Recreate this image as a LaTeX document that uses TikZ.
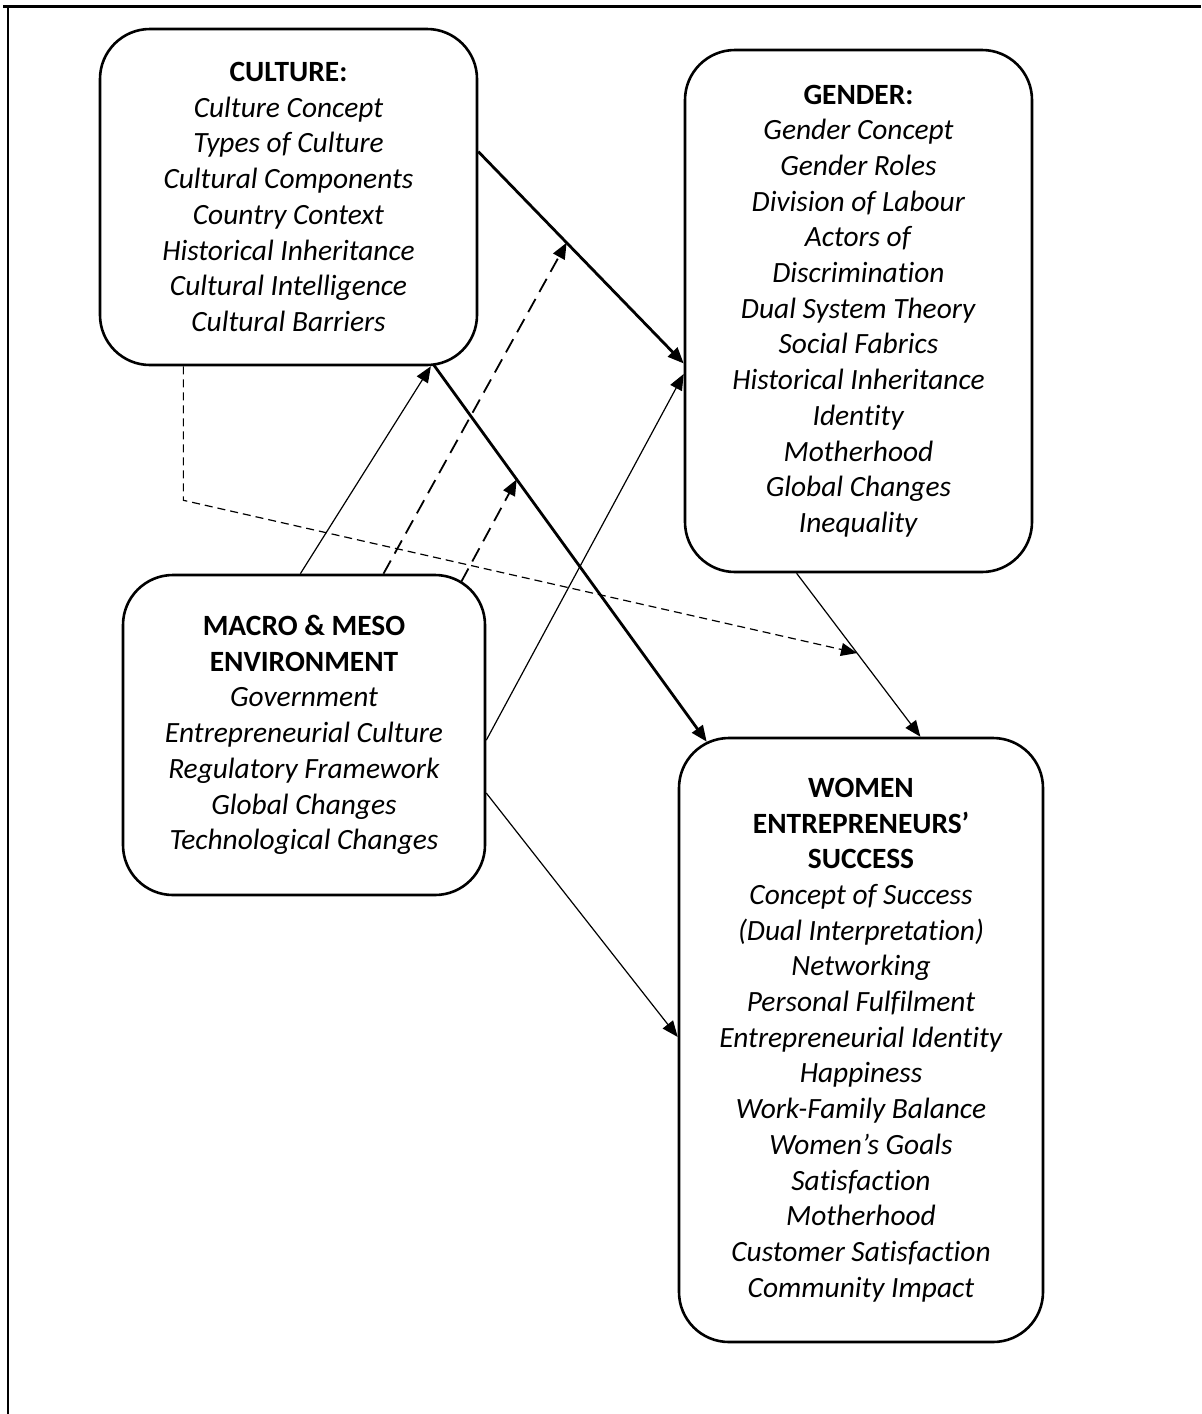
\documentclass[tikz,border=0pt]{standalone}
\usepackage{fontspec}
\setmainfont{Carlito}[Ligatures={NoCommon,NoContextual}]
\usetikzlibrary{arrows.meta,calc}
\begin{document}
\begin{tikzpicture}[x=0.5pt,y=-0.5pt,
  box/.style={draw, line width=1.3pt, rounded corners=25pt, align=center, inner sep=0pt, fill=white,
    font=\fontsize{14.7}{17.85}\selectfont},
  tip/.style={-{Triangle[length=8pt,width=6.5pt]}},
  thickarrow/.style={tip, line width=1.4pt},
  thinarrow/.style={tip, line width=0.6pt},
  modarrow/.style={tip, line width=0.9pt, dash pattern=on 7.5pt off 4pt},
  finearrow/.style={tip, line width=0.6pt, dash pattern=on 4pt off 2.5pt},
]
\useasboundingbox (0,0) rectangle (1201,1414);
% frame
\draw[line width=1.6pt] (3,6.5) -- (1201,6.5);
\draw[line width=1pt] (7.5,6) -- (7.5,1414);

\node[box, minimum width=188.5pt, minimum height=168pt] (cul) at (288.5,197)
 {\textbf{CULTURE:}\\ \textit{Culture Concept}\\ \textit{Types of Culture}\\ \textit{Cultural Components}\\
  \textit{Country Context}\\ \textit{Historical Inheritance}\\ \textit{Cultural Intelligence}\\ \textit{Cultural Barriers}};
\node[box, minimum width=173.5pt, minimum height=261pt] (gen) at (858.5,311)
 {\textbf{GENDER:}\\ \textit{Gender Concept}\\ \textit{Gender Roles}\\ \textit{Division of Labour}\\ \textit{Actors of}\\
  \textit{Discrimination}\\ \textit{Dual System Theory}\\ \textit{Social Fabrics}\\ \textit{Historical Inheritance}\\
  \textit{Identity}\\ \textit{Motherhood}\\ \textit{Global Changes}\\ \textit{Inequality}};
\node[box, minimum width=181pt, minimum height=160pt] (mac) at (304,735)
 {\textbf{MACRO \& MESO}\\ \textbf{ENVIRONMENT}\\ \textit{Government}\\ \textit{Entrepreneurial Culture}\\
  \textit{Regulatory Framework}\\ \textit{Global Changes}\\ \textit{Technological Changes}};
\node[box, minimum width=182pt, minimum height=302pt] (wom) at (861,1040)
 {\textbf{WOMEN}\\ \textbf{ENTREPRENEURS’}\\ \textbf{SUCCESS}\\ \textit{Concept of Success}\\ \textit{(Dual Interpretation)}\\
  \textit{Networking}\\ \textit{Personal Fulfilment}\\ \textit{Entrepreneurial Identity}\\ \textit{Happiness}\\
  \textit{Work-Family Balance}\\ \textit{Women’s Goals}\\ \textit{Satisfaction}\\ \textit{Motherhood}\\
  \textit{Customer Satisfaction}\\ \textit{Community Impact}};

% anchor points
\coordinate (c1s) at ($(cul.north east)!0.366!(cul.south east)$);
\coordinate (g1e) at ($(gen.north west)!0.60!(gen.south west)$);
\coordinate (m2s) at ($(mac.north west)!0.49!(mac.north east)$);
\coordinate (c2e) at ($(cul.south west)!0.875!(cul.south east)$);
\coordinate (c3s) at ($(cul.south east)+(-45,-2)$);
\coordinate (w3e) at ($(wom.north west)+(29,5)$);
\coordinate (m4s) at ($(mac.north east)!0.516!(mac.south east)$);
\coordinate (g4e) at ($(gen.north west)!0.62!(gen.south west)$);
\coordinate (g5s) at ($(gen.south west)!0.323!(gen.south east)$);
\coordinate (w5e) at ($(wom.north west)!0.662!(wom.north east)$);
\coordinate (m6s) at ($(mac.north east)!0.68!(mac.south east)$);
\coordinate (w6e) at ($(wom.north west)!0.495!(wom.south west)$);
\coordinate (m7s) at ($(mac.north west)!0.718!(mac.north east)$);
\coordinate (m8s) at ($(mac.north east)+(-25,8)$);
\coordinate (c9s) at ($(cul.south west)!0.223!(cul.south east)$);

% main arrows
\draw[thickarrow] (c1s) -- coordinate[pos=0.43] (x1) (g1e);
\draw[thinarrow] (m2s) -- (c2e);
\draw[thickarrow] (c3s) -- coordinate[pos=0.305] (x3) (w3e);
\draw[thinarrow] (m4s) -- (g4e);
\draw[thinarrow] (g5s) -- coordinate[pos=0.488] (x5) (w5e);
\draw[thinarrow] (m6s) -- (w6e);

% moderating arrows
\draw[modarrow] (m7s) -- (x1);
\draw[modarrow] (m8s) -- (x3);
\draw[finearrow] (c9s) -- ++(0,134) coordinate (c9b) -- (x5);
\end{tikzpicture}
\end{document}
